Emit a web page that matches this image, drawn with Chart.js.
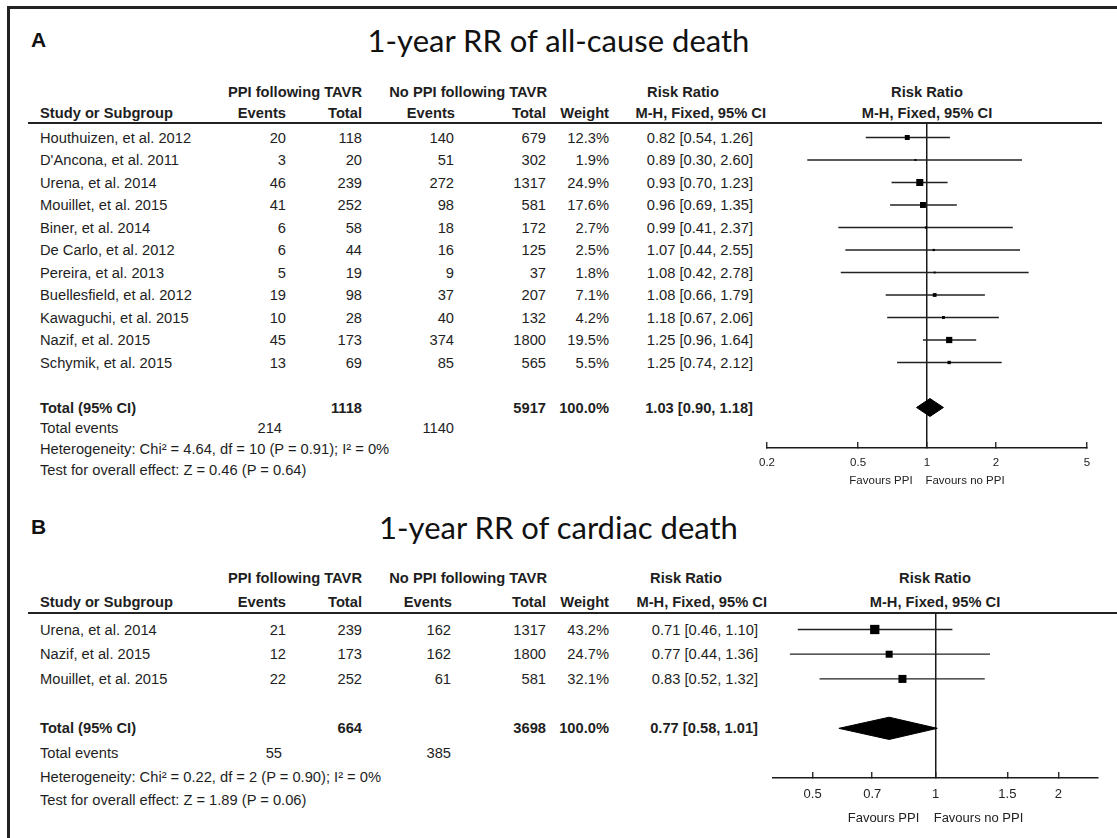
<!DOCTYPE html>
<html>
<head>
<meta charset="utf-8">
<script src="https://cdn.jsdelivr.net/npm/chart.js@4.4.1/dist/chart.umd.min.js"></script>
<style>
  body { margin: 0; background: #fff; }
  #page { position: relative; width: 1117px; height: 838px; overflow: hidden;
          font-family: "Liberation Sans", Arial, sans-serif; color: #1e1e1e; }
  .t { position: absolute; white-space: nowrap; font-size: 14.7px; line-height: 18px; }
  .b { font-weight: bold; }
  .frame { position: absolute; left: 7px; top: 6px; width: 1300px; height: 1000px;
           border-left: 3px solid #222; border-top: 3px solid #222; }
  .rule { position: absolute; height: 2px; background: #222; }
  .title { position: absolute; white-space: nowrap; font-family: Lato, "Open Sans", sans-serif;
           font-size: 31px; line-height: 36px; color: #111; }
  .lab { position: absolute; font-weight: bold; font-size: 21px; line-height: 24px; color: #111; }
  .plot { position: absolute; }
</style>
</head>
<body>
<div id="page">
  <div class="frame"></div>
</div>
<script>
// ---- panel A: 1-year RR of all-cause death
const studiesA = ["Houthuizen, et al. 2012", "D'Ancona, et al. 2011", "Urena, et al. 2014",
  "Mouillet, et al. 2015", "Biner, et al. 2014", "De Carlo, et al. 2012", "Pereira, et al. 2013",
  "Buellesfield, et al. 2012", "Kawaguchi, et al. 2015", "Nazif, et al. 2015", "Schymik, et al. 2015"];
const ppiEventsA = [20, 3, 46, 41, 6, 6, 5, 19, 10, 45, 13];
const ppiTotalA = [118, 20, 239, 252, 58, 44, 19, 98, 28, 173, 69];
const noEventsA = [140, 51, 272, 98, 18, 16, 9, 37, 40, 374, 85];
const noTotalA = [679, 302, 1317, 581, 172, 125, 37, 207, 132, 1800, 565];
const weightA = [12.3, 1.9, 24.9, 17.6, 2.7, 2.5, 1.8, 7.1, 4.2, 19.5, 5.5];
const rrA = [0.82, 0.89, 0.93, 0.96, 0.99, 1.07, 1.08, 1.08, 1.18, 1.25, 1.25];
const loA = [0.54, 0.30, 0.70, 0.69, 0.41, 0.44, 0.42, 0.66, 0.67, 0.96, 0.74];
const hiA = [1.26, 2.60, 1.23, 1.35, 2.37, 2.55, 2.78, 1.79, 2.06, 1.64, 2.12];
const totalNA = [1118, 5917];
const totalRRA = [1.03, 0.90, 1.18];
const totalEventsA = [214, 1140];
const statsA = ["Heterogeneity: Chi\u00b2 = 4.64, df = 10 (P = 0.91); I\u00b2 = 0%",
  "Test for overall effect: Z = 0.46 (P = 0.64)"];
const ticksA = [0.2, 0.5, 1, 2, 5];

// ---- panel B: 1-year RR of cardiac death
const studiesB = ["Urena, et al. 2014", "Nazif, et al. 2015", "Mouillet, et al. 2015"];
const ppiEventsB = [21, 12, 22];
const ppiTotalB = [239, 173, 252];
const noEventsB = [162, 162, 61];
const noTotalB = [1317, 1800, 581];
const weightB = [43.2, 24.7, 32.1];
const rrB = [0.71, 0.77, 0.83];
const loB = [0.46, 0.44, 0.52];
const hiB = [1.10, 1.36, 1.32];
const totalNB = [664, 3698];
const totalRRB = [0.77, 0.58, 1.01];
const totalEventsB = [55, 385];
const statsB = ["Heterogeneity: Chi\u00b2 = 0.22, df = 2 (P = 0.90); I\u00b2 = 0%",
  "Test for overall effect: Z = 1.89 (P = 0.06)"];
const ticksB = [0.5, 0.7, 1, 1.5, 2];

const page = document.getElementById("page");

function txt(s, x, y, align, cls) {
  const d = document.createElement("div");
  d.className = "t " + (cls || "");
  d.textContent = s;
  if (align === "right") { d.style.left = (x - 400) + "px"; d.style.width = "400px"; d.style.textAlign = "right"; }
  else if (align === "center") { d.style.left = (x - 200) + "px"; d.style.width = "400px"; d.style.textAlign = "center"; }
  else d.style.left = x + "px";
  d.style.top = (y - 9) + "px";
  page.appendChild(d);
  return d;
}

function ci(r, l, h) {
  return r.toFixed(2) + " [" + l.toFixed(2) + ", " + h.toFixed(2) + "]";
}

function panel(L, D) {
  // panel letter and title
  const lab = document.createElement("div");
  lab.className = "lab"; lab.textContent = L.letter;
  lab.style.left = "31px"; lab.style.top = (L.titleY - 12) + "px";
  page.appendChild(lab);
  const ti = document.createElement("div");
  ti.className = "title"; ti.textContent = D.title;
  ti.style.left = "0px"; ti.style.width = "1117px"; ti.style.textAlign = "center";
  ti.style.top = (L.titleY - 18) + "px";
  page.appendChild(ti);

  // header
  const c = L.cols;
  txt("PPI following TAVR", c.tot1, L.h1, "right", "b");
  txt("No PPI following TAVR", c.tot2 + 1, L.h1, "right", "b");
  txt("Risk Ratio", c.rrHead, L.h1, "center", "b");
  txt("Risk Ratio", L.plotMid, L.h1, "center", "b");
  txt("Study or Subgroup", 40, L.h2, "left", "b");
  txt("Events", c.ev1, L.h2, "right", "b");
  txt("Total", c.tot1, L.h2, "right", "b");
  txt("Events", c.ev2 + 1, L.h2, "right", "b");
  txt("Total", c.tot2, L.h2, "right", "b");
  txt("Weight", c.w, L.h2, "right", "b");
  txt("M-H, Fixed, 95% CI", c.ciHead, L.h2, "right", "b");
  txt("M-H, Fixed, 95% CI", L.plotMid, L.h2, "center", "b");
  const rule = document.createElement("div");
  rule.className = "rule";
  rule.style.left = "28px"; rule.style.width = (L.ruleEnd - 28) + "px";
  rule.style.top = (L.area.top - 1) + "px";
  page.appendChild(rule);

  // study rows
  D.studies.forEach((s, i) => {
    const y = L.row0 + i * L.rowH;
    txt(s, 40, y, "left");
    txt(String(D.ppiEvents[i]), c.ev1, y, "right");
    txt(String(D.ppiTotal[i]), c.tot1, y, "right");
    txt(String(D.noEvents[i]), c.ev2, y, "right");
    txt(String(D.noTotal[i]), c.tot2, y, "right");
    txt(D.weight[i].toFixed(1) + "%", c.w, y, "right");
    txt(ci(D.rr[i], D.lo[i], D.hi[i]), c.ci, y, "right");
  });
  const ty = L.row0 + D.totalRow * L.rowH;
  txt("Total (95% CI)", 40, ty, "left", "b");
  txt(String(D.totalN[0]), c.tot1, ty, "right", "b");
  txt(String(D.totalN[1]), c.tot2, ty, "right", "b");
  txt("100.0%", c.w, ty, "right", "b");
  txt(ci(D.totalRR[0], D.totalRR[1], D.totalRR[2]), c.ci, ty, "right", "b");
  txt("Total events", 40, L.evY, "left");
  txt(String(D.totalEvents[0]), c.ev1 - 4, L.evY, "right");
  txt(String(D.totalEvents[1]), c.ev2, L.evY, "right");
  txt(D.stats[0], 40, L.evY + L.statH, "left");
  txt(D.stats[1], 40, L.evY + 2 * L.statH, "left");

  // forest plot
  const box = L.canvas;
  const wrap = document.createElement("div");
  wrap.className = "plot";
  wrap.style.left = box.left + "px"; wrap.style.top = box.top + "px";
  const cv = document.createElement("canvas");
  cv.width = box.width; cv.height = box.height;
  wrap.appendChild(cv);
  page.appendChild(wrap);

  const ink = "#1a1a1a";
  const lines = D.studies.map((s, i) => ({
    data: [{ x: D.lo[i], y: i }, { x: D.hi[i], y: i }],
    showLine: true, borderColor: "#222", borderWidth: 1.3, pointRadius: 0
  }));
  const pts = {
    data: D.rr.map((v, i) => ({ x: v, y: i })),
    pointStyle: "rect", pointRadius: D.weight.map(w => Math.sqrt(w)),
    backgroundColor: "#000", borderWidth: 0, showLine: false
  };
  const tr = D.totalRow, h = L.diamondH;
  const diamond = {
    data: [{ x: D.totalRR[1], y: tr }, { x: D.totalRR[0], y: tr - h }, { x: D.totalRR[2], y: tr },
           { x: D.totalRR[0], y: tr + h }, { x: D.totalRR[1], y: tr }],
    showLine: true, fill: "shape", backgroundColor: "#000", borderColor: "#000",
    borderWidth: 1, pointRadius: 0
  };

  new Chart(cv, {
    type: "scatter",
    data: { datasets: [pts, diamond].concat(lines) },
    options: {
      responsive: false, animation: false, events: [],
      layout: { padding: { left: L.area.left - box.left, right: box.left + box.width - L.area.right,
                           top: L.area.top - box.top, bottom: 0 } },
      plugins: { legend: { display: false }, tooltip: { enabled: false } },
      scales: {
        x: {
          type: "logarithmic", min: D.xMin, max: D.xMax, position: "bottom",
          afterBuildTicks: s => { s.ticks = D.ticks.map(v => ({ value: v })); },
          afterFit: s => { s.height = box.top + box.height - L.area.bottom; },
          ticks: { callback: v => String(v), autoSkip: false, maxRotation: 0, minRotation: 0,
                   padding: L.tickPad, color: "#222",
                   font: { family: "Liberation Sans", size: L.tickFont } },
          grid: { color: g => (g.tick && g.tick.value === 1 ? ink : "rgba(0,0,0,0)"),
                  lineWidth: 1.5, tickColor: ink, tickLength: -6, tickWidth: 1.3 },
          border: { color: ink, width: 1.5 },
          title: { display: true, text: "Favours PPI    Favours no PPI", color: "#222",
                   font: { family: "Liberation Sans", size: L.tickFont },
                   padding: { top: 0, bottom: L.titlePad } }
        },
        y: { type: "linear", reverse: true, display: false, min: L.yMin, max: L.yMax }
      }
    }
  });
}

const colsA = { ev1: 286, tot1: 362, ev2: 454, tot2: 546, w: 609, ci: 753, rrHead: 683, ciHead: 766 };
const colsB = { ev1: 286, tot1: 362, ev2: 451, tot2: 546, w: 609, ci: 758, rrHead: 686, ciHead: 767 };

panel({
  letter: "A", titleY: 40, h1: 92, h2: 113, ruleEnd: 1102, cols: colsA,
  row0: 137.5, rowH: 22.5, evY: 428, statH: 21,
  area: { left: 767, right: 1087, top: 123, bottom: 448 },
  canvas: { left: 740, top: 100, width: 377, height: 400 },
  plotMid: 927, yMin: -0.644, yMax: 13.8, diamondH: 0.4,
  tickFont: 11.5, tickPad: 14, titlePad: 12
}, {
  title: "1-year RR of all-cause death", studies: studiesA, ppiEvents: ppiEventsA, ppiTotal: ppiTotalA,
  noEvents: noEventsA, noTotal: noTotalA, weight: weightA, rr: rrA, lo: loA, hi: hiA,
  totalRow: 12, totalN: totalNA, totalRR: totalRRA, totalEvents: totalEventsA, stats: statsA,
  ticks: ticksA, xMin: 0.2, xMax: 5
});

panel({
  letter: "B", titleY: 527, h1: 578, h2: 602, ruleEnd: 1117, cols: colsB,
  row0: 629.5, rowH: 24.7, evY: 753, statH: 23.5,
  area: { left: 773, right: 1098, top: 613, bottom: 778 },
  canvas: { left: 740, top: 590, width: 377, height: 248 },
  plotMid: 935, yMin: -0.668, yMax: 6.01, diamondH: 0.45,
  tickFont: 13, tickPad: 15, titlePad: 12
}, {
  title: "1-year RR of cardiac death", studies: studiesB, ppiEvents: ppiEventsB, ppiTotal: ppiTotalB,
  noEvents: noEventsB, noTotal: noTotalB, weight: weightB, rr: rrB, lo: loB, hi: hiB,
  totalRow: 4, totalN: totalNB, totalRR: totalRRB, totalEvents: totalEventsB, stats: statsB,
  ticks: ticksB, xMin: 0.4, xMax: 2.5
});
</script>
</body>
</html>
